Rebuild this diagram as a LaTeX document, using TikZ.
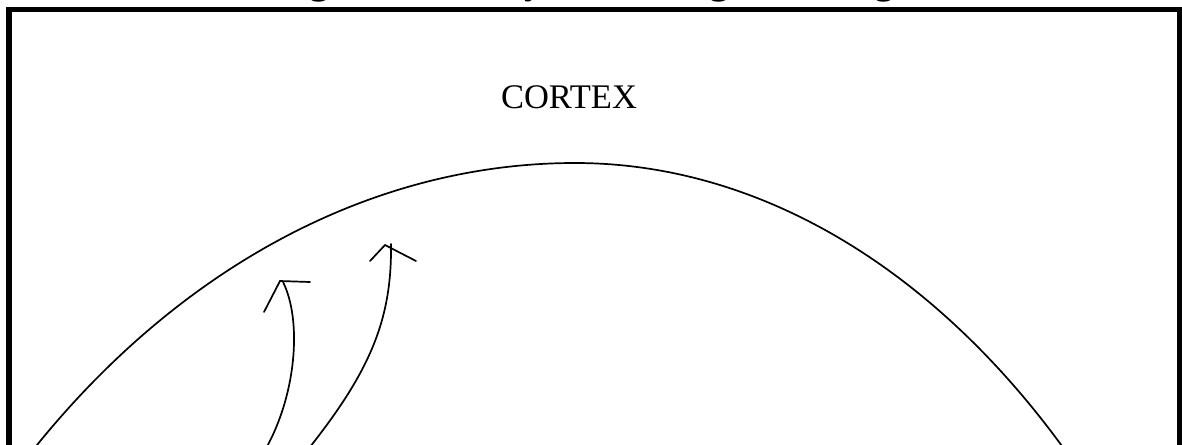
\documentclass[tikz,border=0pt]{standalone}
\usepackage{fontspec}
\setmainfont{Liberation Serif}
\begin{document}
\begin{tikzpicture}[x=1pt,y=-1pt,
  thin line/.style={line width=1.7pt,line cap=round,line join=miter},
  frame/.style={line width=5.5pt}]
\useasboundingbox (0,0) rectangle (1182,444);
% title (only the descenders show)
\node[anchor=base west,inner sep=0pt,font=\fontsize{39.3}{44}\selectfont\bfseries] (title) at (175,-6.2) {Neurological Pathways Involving Learning};
% frame
\draw[frame] (9,9.7) rectangle (1179.3,480);
% label
\node[anchor=base,inner sep=0pt,font=\fontsize{34.5}{40}\selectfont] (cortex) at (569,108) {CORTEX};
% big arc
\coordinate (apex) at (575,163);
\draw[thin line] (apex) arc[start angle=90,end angle=136,x radius=800pt,y radius=1085pt];
\draw[thin line] (apex) arc[start angle=90,end angle=44,x radius=723pt,y radius=1085pt];
% arrow 1
\coordinate (a1s) at (264,452);
\coordinate (a1e) at (283,282);
\coordinate (a1l) at (264,312);
\coordinate (a1t) at (280,281);
\coordinate (a1r) at (310,282);
\draw[thin line] (a1s) .. controls (297,395) and (302,320) .. (a1e);
\draw[thin line] (a1l) -- (a1t) -- (a1r);
% arrow 2
\coordinate (a2s) at (306,452);
\coordinate (a2e) at (391,244);
\coordinate (a2l) at (370,261);
\coordinate (a2t) at (385,245);
\coordinate (a2r) at (416,261);
\draw[thin line] (a2s) .. controls (370,372) and (392,320) .. (a2e);
\draw[thin line] (a2l) -- (a2t) -- (a2r);
\end{tikzpicture}
\end{document}
